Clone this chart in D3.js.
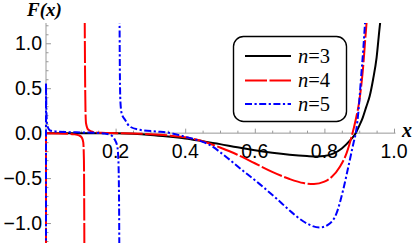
<!DOCTYPE html>
<html><head><meta charset="utf-8">
<script src="https://cdn.jsdelivr.net/npm/d3@7"></script>
<style>
html,body{margin:0;padding:0;background:#fff;}
svg{display:block;}
</style></head>
<body>
<svg id="chart" width="415" height="243"></svg>
<script>
// ---- data ----
const xDomain = [0, 1];
const yDomain = [-1.222, 1.222];
const xTickValues = [0.2, 0.4, 0.6, 0.8, 1.0];
const yTickValues = [-1.0, -0.5, 0.0, 0.5, 1.0];
const seriesNames = ["n=3", "n=4", "n=5"];
const nValues = ["3", "4", "5"];

// n = 3 (solid black)
const n3Main = [[0,0],[0.1,0],[0.2,-0.002],[0.25,-0.008],[0.3,-0.02],[0.35,-0.038],[0.4,-0.06],[0.45,-0.09],[0.5,-0.122],[0.55,-0.158],[0.6,-0.19],[0.65,-0.218],[0.7,-0.24],[0.75,-0.255],[0.78,-0.26],[0.8,-0.255],[0.825,-0.228],[0.85,-0.17],[0.875,-0.075],[0.89,0.0],[0.9,0.08],[0.91,0.17],[0.92,0.29],[0.93,0.41],[0.94,0.6],[0.95,0.84],[0.958,1.15],[0.965,1.4]];

// n = 4 (red dashed)
const n4Wall = [[0,-1.3],[0,0]];
const n4Left = [[0,-0.002],[0.03,-0.003],[0.06,-0.006],[0.08,-0.012],[0.095,-0.025],[0.103,-0.05],[0.107,-0.1],[0.109,-0.3],[0.1103,-1.3]];
const n4Right = [[0.1112,1.3],[0.1125,0.55],[0.1135,0.25],[0.115,0.11],[0.1217,0.037],[0.136,0.012],[0.16,0.004],[0.2,0.0],[0.25,-0.004],[0.3,-0.012],[0.35,-0.025],[0.4,-0.046],[0.45,-0.09],[0.5,-0.16],[0.55,-0.24],[0.6,-0.335],[0.65,-0.43],[0.7,-0.51],[0.74,-0.555],[0.77,-0.566],[0.8,-0.54],[0.82,-0.49],[0.845,-0.37],[0.864,-0.22],[0.878,-0.04],[0.89,0.15],[0.9,0.35],[0.91,0.68],[0.921,1.22],[0.928,1.5]];

// n = 5 (blue dot-dashed)
const n5Wall = [[0,-1.3],[0,0.55]];
const n5Left = [[0,0.55],[0.0015,0.2],[0.004,0.08],[0.0115,0.03],[0.03,0.018],[0.06,0.012],[0.1,0.008],[0.14,0.004],[0.17,-0.005],[0.185,-0.02],[0.198,-0.075],[0.205,-0.15],[0.208,-0.3],[0.21,-0.8],[0.2107,-1.3]];
const n5Right = [[0.2113,1.3],[0.2126,0.55],[0.214,0.34],[0.2175,0.22],[0.227,0.15],[0.241,0.073],[0.27,0.037],[0.318,0.018],[0.35,0.006],[0.4,-0.04],[0.433,-0.075],[0.47,-0.13],[0.5,-0.21],[0.557,-0.39],[0.615,-0.57],[0.663,-0.73],[0.7,-0.86],[0.739,-0.98],[0.787,-1.05],[0.81,-1.02],[0.835,-0.89],[0.854,-0.63],[0.869,-0.37],[0.883,-0.12],[0.891,0.02],[0.898,0.25],[0.905,0.6],[0.912,0.95],[0.918,1.3]];

// ---- drawing ----
const svg = d3.select("#chart");
const x = d3.scaleLinear().domain(xDomain).range([46, 394]);
const y = d3.scaleLinear().domain(yDomain).range([243, 23.3]);
const axisColor = "#999";

svg.append("defs").append("clipPath").attr("id","plot")
  .append("rect").attr("x", 43).attr("y", 23).attr("width", 354).attr("height", 220);

// x axis (ticks pointing up)
const xAxisG = svg.append("g").attr("transform", `translate(0,${y(0)})`);
xAxisG.call(d3.axisTop(x).tickValues(d3.range(0.05, 1.001, 0.05)).tickSize(2.5).tickFormat(""));
xAxisG.call(g => g.selectAll(".tick line").filter(d => Math.abs(d*5 - Math.round(d*5)) < 1e-6).attr("y2", -4.5));
xAxisG.select(".domain").attr("d", `M${x(0)},0H${x(1)+1.5}`);
xAxisG.selectAll("line,path").attr("stroke", axisColor).attr("stroke-width", 1);

// y axis (ticks pointing right)
const yAxisG = svg.append("g").attr("transform", `translate(${x(0)},0)`);
yAxisG.call(d3.axisRight(y).tickValues(d3.range(-12, 13, 1).map(v => v/10)).tickSize(2.5).tickFormat(""));
yAxisG.call(g => g.selectAll(".tick line").filter(d => Math.abs(d*2 - Math.round(d*2)) < 1e-6).attr("x2", 5));
yAxisG.select(".domain").attr("d", `M0,23H0V243`);
yAxisG.selectAll("line,path").attr("stroke", axisColor).attr("stroke-width", 1);

// tick labels
const fmt = d3.format(".1f");
svg.append("g").selectAll("text").data(xTickValues).join("text")
  .attr("x", d => x(d)).attr("y", 158).attr("text-anchor","middle")
  .attr("font-family","Liberation Sans, Arial, sans-serif").attr("font-size", 19.5)
  .text(d => fmt(d));
svg.append("g").selectAll("text").data(yTickValues).join("text")
  .attr("x", 42).attr("y", d => y(d) + 7).attr("text-anchor","end")
  .attr("font-family","Liberation Sans, Arial, sans-serif").attr("font-size", 19.5)
  .text(d => fmt(d).replace("-", "\u2212"));

// axis labels
const fl = svg.append("text").attr("x", 27).attr("y", 16)
  .attr("font-family","Liberation Serif, Times New Roman, serif").attr("font-size", 19)
  .attr("font-weight","bold").attr("font-style","italic").text("F(x)");
svg.append("text").attr("x", 402).attr("y", 137)
  .attr("font-family","Liberation Serif, Times New Roman, serif").attr("font-size", 20)
  .attr("font-weight","bold").attr("font-style","italic").text("x");

// curves
const smooth = d3.line().x(d => x(d[0])).y(d => y(d[1])).curve(d3.curveMonotoneX);
const straight = d3.line().x(d => x(d[0])).y(d => y(d[1]));
const styles = [
  {color:"#000", dash:null},
  {color:"#ff0000", dash:"22,2.5"},
  {color:"#0000ff", dash:"7,2.5,2.2,2.5"}
];
const plotG = svg.append("g").attr("clip-path","url(#plot)");
const series = [
  {s:0, segs:[{d:n3Main, gen:smooth}]},
  {s:1, segs:[{d:n4Wall, gen:straight},{d:n4Left, gen:smooth},{d:n4Right, gen:smooth}]},
  {s:2, segs:[{d:n5Wall, gen:straight},{d:n5Left, gen:smooth},{d:n5Right, gen:smooth}]}
];
series.forEach(se => {
  se.segs.forEach(sg => {
    plotG.append("path").attr("d", sg.gen(sg.d))
      .attr("fill","none").attr("stroke", styles[se.s].color)
      .attr("stroke-width", 2).attr("stroke-dasharray", styles[se.s].dash);
  });
});

// legend
const lg = svg.append("g");
lg.append("rect").attr("x", 233.5).attr("y", 36.5).attr("width", 113).attr("height", 85)
  .attr("rx", 10).attr("fill","#fff").attr("stroke","#000").attr("stroke-width", 1.4);
const rowY = [56, 80.5, 104];
seriesNames.forEach((name, i) => {
  lg.append("line").attr("x1", 245).attr("x2", 291).attr("y1", rowY[i]).attr("y2", rowY[i])
    .attr("stroke", styles[i].color).attr("stroke-width", 2).attr("stroke-dasharray", styles[i].dash);
  const t = lg.append("text").attr("x", 298).attr("y", rowY[i] + 6.5)
    .attr("font-family","Liberation Serif, Times New Roman, serif").attr("font-size", 20.5);
  t.append("tspan").attr("font-style","italic").text("n");
  t.append("tspan").text("=" + nValues[i]);
});
</script>
</body></html>
